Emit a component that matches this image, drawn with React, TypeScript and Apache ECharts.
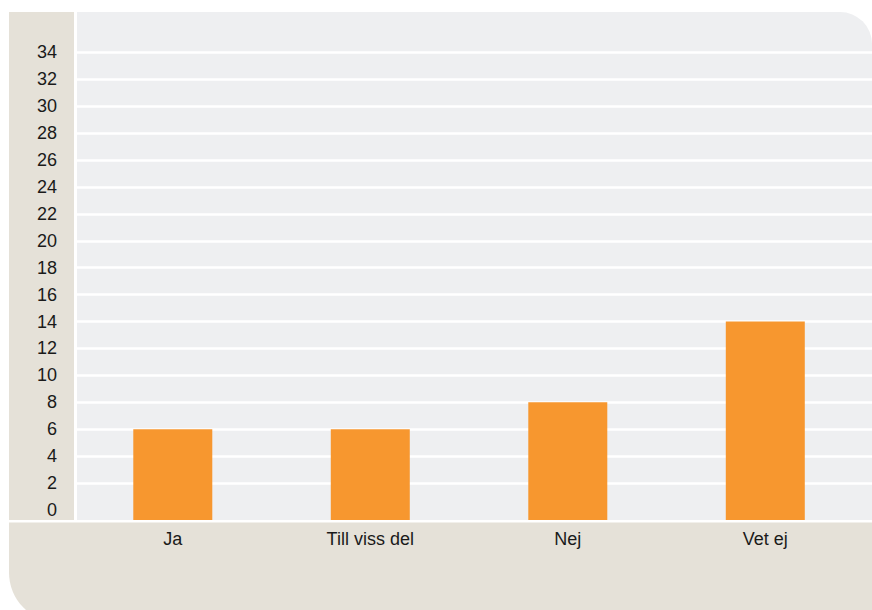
import React, { useEffect, useRef } from "react";
import * as echarts from "echarts";

const categories = ["Ja", "Till viss del", "Nej", "Vet ej"];
const values = [6, 6, 8, 14];
const yLabelTicks = [0, 2, 4, 6, 8, 10, 12, 14, 16, 18, 20, 22, 24, 26, 28, 30, 32, 34];
const yLineTicks = [2, 4, 6, 8, 10, 12, 14, 16, 18, 20, 22, 24, 26, 28, 30, 32, 34];
const xPositions = [0, 1, 2, 3];

const BEIGE = "#e5e1d8";
const GRAY = "#eeeff1";
const ORANGE = "#f7972f";
const TEXT = "#1a1a1a";
const FONT = "'Liberation Sans', Arial, Helvetica, sans-serif";

export default function App() {
  const ref = useRef<HTMLDivElement>(null);

  useEffect(() => {
    if (!ref.current) return;
    const chart = echarts.init(ref.current, null, { renderer: "svg" });
    chart.setOption({
      animation: false,
      backgroundColor: "#ffffff",
      textStyle: { fontFamily: FONT },
      graphic: {
        elements: [
          {
            type: "rect",
            z: -10,
            silent: true,
            shape: { x: 9, y: 12, width: 65, height: 508 },
            style: { fill: BEIGE },
          },
          {
            type: "rect",
            z: -10,
            silent: true,
            shape: { x: 77, y: 12, width: 795, height: 508, r: [0, 32, 0, 0] },
            style: { fill: GRAY },
          },
          {
            type: "rect",
            z: -10,
            silent: true,
            shape: { x: 9, y: 522.5, width: 900, height: 100, r: [0, 0, 0, 50] },
            style: { fill: BEIGE },
          },
        ],
      },
      grid: { left: 77, right: 0, top: 12, bottom: 90, containLabel: false },
      xAxis: {
        type: "value",
        min: -0.485,
        max: 3.5403,
        axisLine: { show: false },
        axisTick: { show: false, customValues: xPositions },
        splitLine: { show: false },
        axisLabel: {
          customValues: xPositions,
          formatter: (v: number) => categories[Math.round(v)] ?? "",
          color: TEXT,
          fontSize: 18,
          fontFamily: FONT,
          margin: 10,
        },
      },
      yAxis: {
        type: "value",
        min: -0.75,
        max: 37,
        axisLine: { show: false },
        axisTick: { show: false, customValues: yLineTicks },
        splitLine: { show: true, lineStyle: { color: "#ffffff", width: 2.5 } },
        axisLabel: {
          customValues: yLabelTicks,
          color: TEXT,
          fontSize: 18,
          fontFamily: FONT,
          margin: 20,
        },
      },
      series: [
        {
          type: "custom",
          data: values.map((v, i) => [xPositions[i], v]),
          encode: { x: 0, y: 1 },
          renderItem: (params: any, api: any) => {
            const x = api.value(0);
            const v = api.value(1);
            const top = api.coord([x, v]);
            const w = api.size([1, 0])[0] * 0.4;
            const cs = params.coordSys;
            const bottom = cs.y + cs.height;
            return {
              type: "rect",
              shape: { x: top[0] - w / 2, y: top[1], width: w, height: bottom - top[1] },
              style: { fill: ORANGE },
            };
          },
        },
      ],
    });
    return () => chart.dispose();
  }, []);

  return (
    <div
      ref={ref}
      style={{ position: "fixed", left: 0, top: 0, width: 872, height: 610 }}
    />
  );
}
